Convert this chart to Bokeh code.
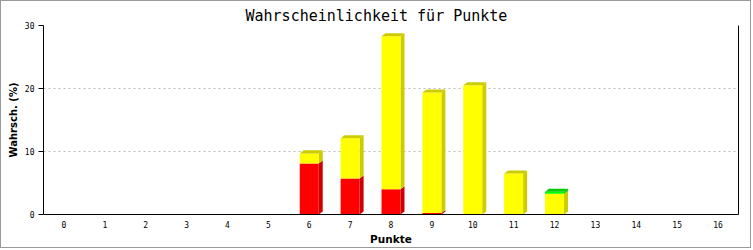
from bokeh.plotting import figure
from bokeh.models import LinearAxis, FixedTicker, Range1d, ColumnDataSource
from bokeh.embed import file_html
from bokeh.resources import INLINE

# ---- data ----
punkte = list(range(17))
rot   = [0, 0, 0, 0, 0, 0, 8.1, 5.7, 4.0, 0.25, 0, 0, 0, 0, 0, 0, 0]
gelb  = [0, 0, 0, 0, 0, 0, 1.6, 6.4, 24.3, 19.1, 20.5, 6.5, 3.3, 0, 0, 0, 0]
gruen = [0, 0, 0, 0, 0, 0, 0, 0, 0, 0, 0, 0, 0.3, 0, 0, 0, 0]
y_ticks = [0, 10, 20, 30]
titel = "Wahrscheinlichkeit für Punkte"
x_titel = "Punkte"
y_titel = "Wahrsch. (%)"

serien = [
    (rot, "#FF0000", "#CC0000"),
    (gelb, "#FFFF00", "#CCCC00"),
    (gruen, "#00FF00", "#00CC00"),
]

p = figure(width=751, height=248, output_backend="svg", toolbar_location=None,
           x_range=Range1d(-0.5, 16.5), y_range=Range1d(0, 30),
           min_border_left=42, min_border_right=14, min_border_top=24, min_border_bottom=35,
           title=titel)
p.styles = {"border": "1px solid #9a9a9a"}
p.outline_line_color = None
p.background_fill_color = "white"
p.border_fill_color = "white"

p.title.align = "left"
p.title.offset = 202
p.title.text_font = "DejaVu Sans Mono"
p.title.text_font_size = "15px"
p.title.text_font_style = "normal"
p.title.text_color = "black"
p.title.standoff = 2

# 3D geometry
hw = 0.232
dx = 0.098
dy = 0.48

unten = [0.0] * len(punkte)
oben_farbe = [None] * len(punkte)
for werte, front, seite in serien:
    q = dict(left=[], right=[], bottom=[], top=[])
    sx, sy = [], []
    for i, (x, v) in enumerate(zip(punkte, werte)):
        if v <= 0:
            continue
        b = unten[i]
        t = b + v
        x0, x1 = x - hw, x + hw
        q["left"].append(x0); q["right"].append(x1)
        q["bottom"].append(b); q["top"].append(t)
        sx.append([x1, x1 + dx, x1 + dx, x1])
        sy.append([b, b + dy, t + dy, t])
        unten[i] = t
        oben_farbe[i] = seite
    p.patches(sx, sy, fill_color=seite, line_color=None)
    p.quad(source=ColumnDataSource(q), left="left", right="right", bottom="bottom", top="top",
           fill_color=front, line_color=None)

# caps
for farbe in {c for c in oben_farbe if c}:
    cx, cy = [], []
    for i, x in enumerate(punkte):
        if oben_farbe[i] != farbe:
            continue
        t = unten[i]
        x0, x1 = x - hw, x + hw
        cx.append([x0, x0 + dx, x1 + dx, x1])
        cy.append([t, t + dy, t + dy, t])
    p.patches(cx, cy, fill_color=farbe, line_color=None)

# axes
xa = p.xaxis[0]
xa.ticker = FixedTicker(ticks=punkte)
xa.major_tick_out = 0
xa.major_tick_in = 0
xa.minor_tick_line_color = None
xa.axis_line_color = "black"
xa.major_label_text_font = "DejaVu Sans Mono"
xa.major_label_text_font_size = "8px"
xa.major_label_text_color = "black"
xa.major_label_standoff = 6
xa.axis_label = x_titel
xa.axis_label_text_font = "DejaVu Sans"
xa.axis_label_text_font_size = "10.5px"
xa.axis_label_text_font_style = "bold"
xa.axis_label_text_color = "black"
xa.axis_label_standoff = 2

ya = p.yaxis[0]
ya.ticker = FixedTicker(ticks=y_ticks)
ya.major_tick_out = 5
ya.major_tick_in = 0
ya.minor_tick_line_color = None
ya.axis_line_color = "black"
ya.major_label_text_font = "DejaVu Sans Mono"
ya.major_label_text_font_size = "8px"
ya.major_label_text_color = "black"
ya.major_label_standoff = 4
ya.axis_label = y_titel
ya.axis_label_text_font = "DejaVu Sans"
ya.axis_label_text_font_size = "10px"
ya.axis_label_text_font_style = "bold"
ya.axis_label_text_color = "black"
ya.axis_label_standoff = 3

ra = LinearAxis(ticker=FixedTicker(ticks=[]), major_tick_out=0, major_tick_in=0,
                minor_tick_line_color=None, major_label_text_font_size="0px",
                axis_line_color="black")
p.add_layout(ra, "right")

p.xgrid.grid_line_color = None
p.ygrid.ticker = FixedTicker(ticks=y_ticks)
p.ygrid.grid_line_color = "#bbbbbb"
p.ygrid.grid_line_dash = "2 3"

open("out.html", "w").write(file_html(p, INLINE))
